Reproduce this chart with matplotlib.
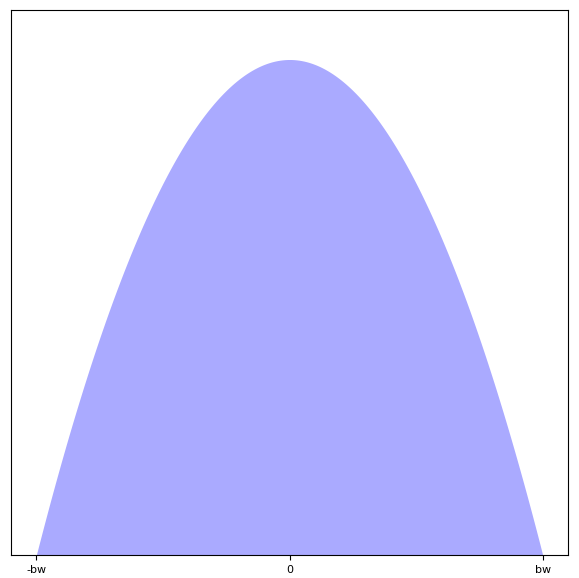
import numpy as np
import matplotlib
matplotlib.use('Agg')
import matplotlib.pyplot as plt

# Epanechnikov kernel over [-bw, bw]
bw = 1.0
peak = 0.75
tick_pos = [-bw, 0, bw]
tick_labels = ['-bw', '0', 'bw']

x = np.linspace(-bw, bw, 400)
y = peak * (1 - (x / bw) ** 2)

fig = plt.figure(figsize=(5.79, 5.78), dpi=100)
ax = fig.add_axes([0.019, 0.0398, 0.962, 0.943])
ax.fill_between(x, 0, y, color='#aaaaff', linewidth=0)
ax.set_xlim(-1.1 * bw, 1.1 * bw)
ax.set_ylim(0, peak * 1.1)
ax.set_xticks(tick_pos)
ax.set_xticklabels(tick_labels, fontsize=8)
ax.set_yticks([])
fig.savefig('out.png', dpi=100)
